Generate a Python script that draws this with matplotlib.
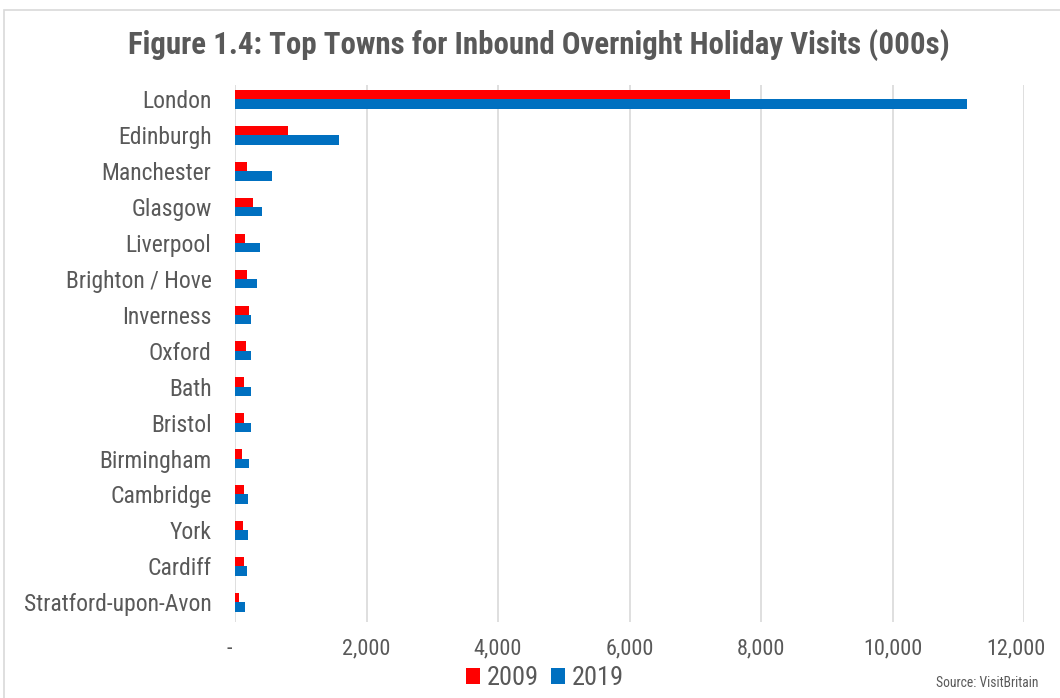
import matplotlib.pyplot as plt
from matplotlib.patches import Rectangle
from matplotlib.ticker import FuncFormatter
from matplotlib.transforms import ScaledTranslation

towns = ['London', 'Edinburgh', 'Manchester', 'Glasgow', 'Liverpool',
         'Brighton / Hove', 'Inverness', 'Oxford', 'Bath', 'Bristol',
         'Birmingham', 'Cambridge', 'York', 'Cardiff', 'Stratford-upon-Avon']
visits_2009 = [7524, 812, 183, 279, 152, 178, 218, 172, 142, 142, 107, 142, 122, 132, 56]
visits_2019 = [11133, 1589, 568, 411, 386, 335, 244, 244, 248, 239, 218, 198, 198, 188, 157]

FONT = ['Roboto Condensed', 'DejaVu Sans']
GREY = '#595959'
RED = '#FF0000'
BLUE = '#0070C0'

W, H = 1060, 698
fig = plt.figure(figsize=(W / 100, H / 100), dpi=100)

# light frame around the chart
fig.patches.append(Rectangle((4 / W, -0.1), 1.2, (H - 10) / H + 0.1,
                             transform=fig.transFigure, fill=False,
                             edgecolor='#d9d9d9', linewidth=1.2))

ax = fig.add_axes([235 / W, (H - 622) / H, (1024 - 235) / W, (622 - 85) / H])

y = list(range(len(towns)))
bh = 0.26
ax.barh([i - bh / 2 for i in y], visits_2009, height=bh, color=RED, label='2009', zorder=3)
ax.barh([i + bh / 2 for i in y], visits_2019, height=bh, color=BLUE, label='2019', zorder=3)

ax.set_ylim(len(towns) - 0.45, -0.4)
ax.set_xlim(0, 12000)
ax.set_xticks(range(0, 12001, 2000))
ax.xaxis.set_major_formatter(FuncFormatter(lambda v, p: '-' if v == 0 else f'{int(v):,}'))
ax.set_yticks(y)
ax.set_yticklabels(towns)

ax.grid(axis='x', color='#d9d9d9', linewidth=1.2, zorder=0)
for s in ax.spines.values():
    s.set_visible(False)
ax.tick_params(length=0)
ax.tick_params(axis='y', pad=17, labelsize=17, labelcolor=GREY)
ax.tick_params(axis='x', pad=12, labelsize=16, labelcolor=GREY)
for lab in ax.get_xticklabels() + ax.get_yticklabels():
    lab.set_family(FONT)
xl = ax.get_xticklabels()
xl[0].set_transform(xl[0].get_transform() + ScaledTranslation(-6 / 100, 0, fig.dpi_scale_trans))
xl[-1].set_transform(xl[-1].get_transform() + ScaledTranslation(-8 / 100, 0, fig.dpi_scale_trans))

fig.text(539 / W, (H - 45) / H,
         'Figure 1.4: Top Towns for Inbound Overnight Holiday Visits (000s)',
         ha='center', va='center', fontsize=22.2, fontweight='bold', color=GREY, family=FONT)

leg = fig.legend(loc='center', bbox_to_anchor=(545 / W, (H - 678) / H), ncol=2, frameon=False,
                 handlelength=0.55, handleheight=0.55, handletextpad=0.25, columnspacing=0.45,
                 prop={'family': FONT, 'size': 19})
for t in leg.get_texts():
    t.set_color(GREY)

fig.text(1038 / W, (H - 683) / H, 'Source: VisitBritain', ha='right', va='center',
         fontsize=9.8, color=GREY, family=FONT)

fig.savefig('out.png', dpi=100)
